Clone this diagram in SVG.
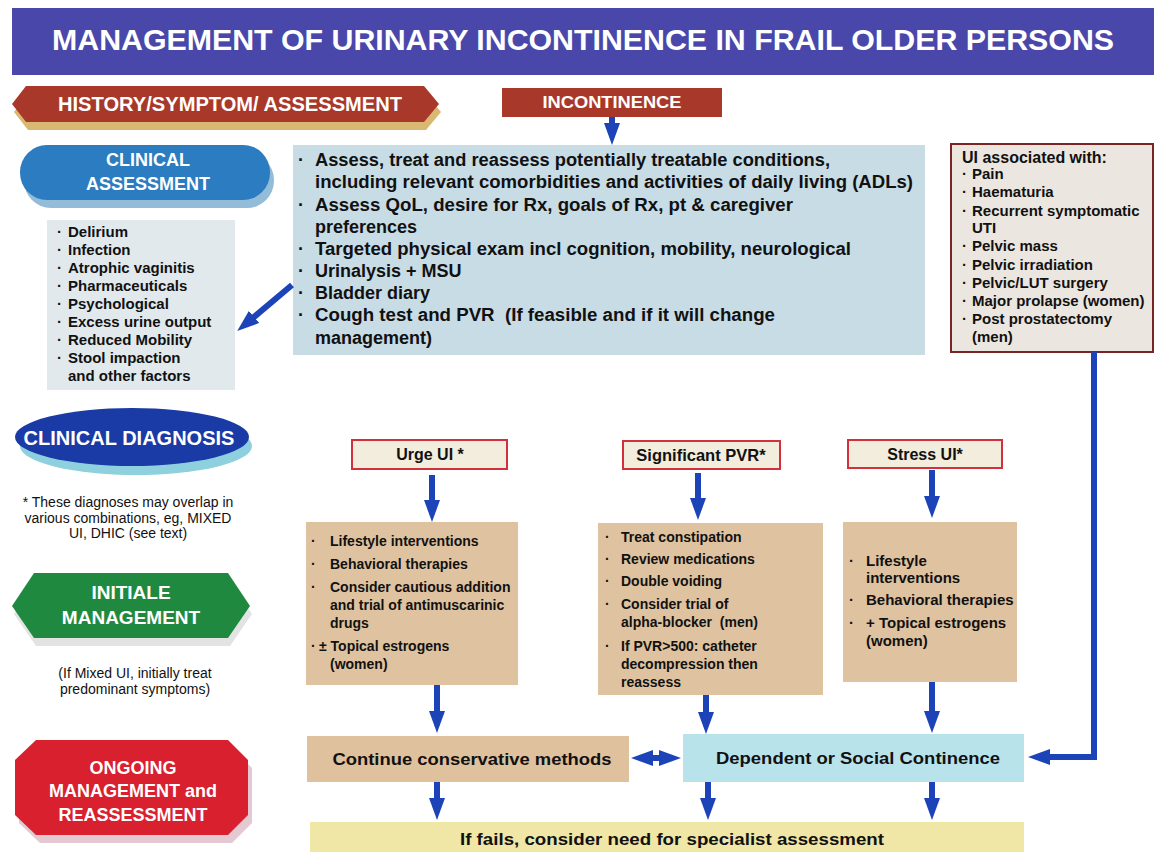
<svg xmlns="http://www.w3.org/2000/svg" width="1154" height="852" viewBox="0 0 1154 852">
<defs>
<style>
text{font-family:"Liberation Sans",Arial,Helvetica,sans-serif;}
.w{fill:#ffffff;font-weight:bold;}
.b{fill:#111111;font-weight:bold;}
.r{fill:#111111;font-size:14px;}
.m{font-size:18px;}
.l{font-size:15px;}
.t{font-size:14px;}
.c{text-anchor:middle;}
.arr{stroke:#1c44b8;stroke-width:6;fill:none;}
.hdr{fill:#f3eddd;stroke:#d2303c;stroke-width:2;}
.tan{fill:#dfc29f;}
</style>
<marker id="ah" viewBox="0 0 22 16" markerWidth="22" markerHeight="16" refX="4" refY="8" markerUnits="userSpaceOnUse" orient="auto-start-reverse">
<path d="M0,0 L22,8 L0,16 z" fill="#1c44b8"/>
</marker>
</defs>
<rect width="1154" height="852" fill="#ffffff"/>

<g id="title">
<rect x="12" y="8" width="1142" height="67" fill="#4a47ab"/>
<text class="w c" x="583" y="50" font-size="30" textLength="1062" lengthAdjust="spacingAndGlyphs">MANAGEMENT OF URINARY INCONTINENCE IN FRAIL OLDER PERSONS</text>
</g>

<g id="history">
<polygon points="14,112 28,94 426,94 441,112 426,130 28,130" fill="#d9b872"/>
<polygon points="12,104 26,86 424,86 439,104 424,122 26,122" fill="#a8392a"/>
<text class="w" x="58" y="111" font-size="20" textLength="344" lengthAdjust="spacingAndGlyphs">HISTORY/SYMPTOM/ ASSESSMENT</text>
</g>

<g id="incontinence">
<rect x="502" y="88" width="220" height="29" fill="#a8392a"/>
<text class="w c" x="612" y="108" font-size="17" textLength="139" lengthAdjust="spacingAndGlyphs">INCONTINENCE</text>
</g>

<g id="clinical-assessment">
<rect x="24" y="153" width="250" height="55" rx="27" fill="#93bcd8"/>
<rect x="20" y="145" width="250" height="55" rx="27" fill="#2b7cc0"/>
<text class="w c" x="148" y="166" font-size="18">CLINICAL</text>
<text class="w c" x="148" y="190" font-size="18">ASSESSMENT</text>
</g>

<g id="factors">
<rect x="47" y="220" width="188" height="170" fill="#e2e9ed"/>
<g class="b l">
<text x="57" y="237">·</text><text x="68" y="237">Delirium</text>
<text x="57" y="255">·</text><text x="68" y="255">Infection</text>
<text x="57" y="273">·</text><text x="68" y="273">Atrophic vaginitis</text>
<text x="57" y="291">·</text><text x="68" y="291">Pharmaceuticals</text>
<text x="57" y="309">·</text><text x="68" y="309">Psychological</text>
<text x="57" y="327">·</text><text x="68" y="327">Excess urine output</text>
<text x="57" y="345">·</text><text x="68" y="345">Reduced Mobility</text>
<text x="57" y="363">·</text><text x="68" y="363">Stool impaction</text>
<text x="68" y="381">and other factors</text>
</g>
</g>

<g id="assessment-box">
<rect x="293" y="145" width="632" height="210" fill="#c8dce6"/>
<g class="b m">
<text x="298" y="166">·</text><text x="315" y="166" textLength="515" lengthAdjust="spacingAndGlyphs">Assess, treat and reassess potentially treatable conditions,</text>
<text x="315" y="188" textLength="598" lengthAdjust="spacingAndGlyphs">including relevant comorbidities and activities of daily living (ADLs)</text>
<text x="298" y="211">·</text><text x="315" y="211" textLength="478" lengthAdjust="spacingAndGlyphs">Assess QoL, desire for Rx, goals of Rx, pt &amp; caregiver</text>
<text x="315" y="233">preferences</text>
<text x="298" y="255">·</text><text x="315" y="255" textLength="536" lengthAdjust="spacingAndGlyphs">Targeted physical exam incl cognition, mobility, neurological</text>
<text x="298" y="277">·</text><text x="315" y="277">Urinalysis + MSU</text>
<text x="298" y="299">·</text><text x="315" y="299">Bladder diary</text>
<text x="298" y="321">·</text><text x="315" y="321" textLength="460" lengthAdjust="spacingAndGlyphs">Cough test and PVR&#160; (If feasible and if it will change</text>
<text x="315" y="344">management)</text>
</g>
</g>

<g id="ui-associated">
<rect x="951" y="144" width="202" height="208" fill="#ebe6df" stroke="#7a2424" stroke-width="2"/>
<g class="b l">
<text x="962" y="163" font-size="16">UI associated with:</text>
<text x="962" y="179">·</text><text x="972" y="179">Pain</text>
<text x="962" y="197">·</text><text x="972" y="197">Haematuria</text>
<text x="962" y="216">·</text><text x="972" y="216">Recurrent symptomatic</text>
<text x="972" y="233">UTI</text>
<text x="962" y="251">·</text><text x="972" y="251">Pelvic mass</text>
<text x="962" y="270">·</text><text x="972" y="270">Pelvic irradiation</text>
<text x="962" y="288">·</text><text x="972" y="288">Pelvic/LUT surgery</text>
<text x="962" y="306">·</text><text x="972" y="306">Major prolapse (women)</text>
<text x="962" y="324">·</text><text x="972" y="324">Post prostatectomy</text>
<text x="972" y="342">(men)</text>
</g>
</g>

<g id="clinical-diagnosis">
<ellipse cx="136" cy="446" rx="116" ry="29" fill="#8fd0df"/>
<ellipse cx="132" cy="437" rx="117" ry="29" fill="#1a3aa6"/>
<text class="w c" x="129" y="445" font-size="20">CLINICAL DIAGNOSIS</text>
<text class="r c" x="128" y="507">* These diagnoses may overlap in</text>
<text class="r c" x="128" y="523">various combinations, eg, MIXED</text>
<text class="r c" x="128" y="538">UI, DHIC (see text)</text>
</g>

<g id="initiale">
<polygon points="14,614 36,581 230,581 252,614 230,646 36,646" fill="#e3e3e3"/>
<polygon points="12,606 34,573 228,573 250,606 228,638 34,638" fill="#1f8a3f"/>
<text class="w c" x="131" y="599" font-size="19">INITIALE</text>
<text class="w c" x="131" y="624" font-size="19">MANAGEMENT</text>
<text class="r c" x="135" y="678">(If Mixed UI, initially treat</text>
<text class="r c" x="135" y="694">predominant symptoms)</text>
</g>

<g id="ongoing">
<polygon points="40,748 232,748 252,768 252,823 232,843 40,843 19,823 19,768" fill="#e4c9d2"/>
<polygon points="36,740 228,740 248,760 248,815 228,835 36,835 15,815 15,760" fill="#d8202e"/>
<text class="w c" x="133" y="774" font-size="18">ONGOING</text>
<text class="w c" x="133" y="797" font-size="18">MANAGEMENT and</text>
<text class="w c" x="133" y="821" font-size="18">REASSESSMENT</text>
</g>

<g id="urge-ui">
<rect class="hdr" x="352" y="440" width="155" height="29"/>
<text class="b c" x="430" y="460" font-size="16">Urge UI *</text>
</g>
<g id="significant-pvr">
<rect class="hdr" x="623" y="441" width="157" height="28"/>
<text class="b c" x="701" y="461" font-size="16.5">Significant PVR*</text>
</g>
<g id="stress-ui">
<rect class="hdr" x="848" y="440" width="154" height="28"/>
<text class="b c" x="925" y="460" font-size="16">Stress UI*</text>
</g>

<g id="urge-treatment">
<rect class="tan" x="306" y="522" width="212" height="163"/>
<g class="b t">
<text x="311" y="546">·</text><text x="330" y="546">Lifestyle interventions</text>
<text x="311" y="569">·</text><text x="330" y="569">Behavioral therapies</text>
<text x="311" y="592">·</text><text x="330" y="592">Consider cautious addition</text>
<text x="330" y="610">and trial of antimuscarinic</text>
<text x="330" y="628">drugs</text>
<text x="311" y="651">·</text><text x="319" y="651">± Topical estrogens</text>
<text x="330" y="669">(women)</text>
</g>
</g>

<g id="pvr-treatment">
<rect class="tan" x="598" y="523" width="225" height="172"/>
<g class="b t">
<text x="605" y="542">·</text><text x="621" y="542">Treat constipation</text>
<text x="605" y="564">·</text><text x="621" y="564">Review medications</text>
<text x="605" y="586">·</text><text x="621" y="586">Double voiding</text>
<text x="605" y="609">·</text><text x="621" y="609">Consider trial of</text>
<text x="621" y="627">alpha-blocker&#160; (men)</text>
<text x="605" y="651">·</text><text x="621" y="651">If PVR&gt;500: catheter</text>
<text x="621" y="669">decompression then</text>
<text x="621" y="687">reassess</text>
</g>
</g>

<g id="stress-treatment">
<rect class="tan" x="843" y="522" width="174" height="160"/>
<g class="b l">
<text x="849" y="566">·</text><text x="866" y="566">Lifestyle</text>
<text x="866" y="583">interventions</text>
<text x="849" y="605">·</text><text x="866" y="605">Behavioral therapies</text>
<text x="849" y="628">·</text><text x="866" y="628">+ Topical estrogens</text>
<text x="866" y="646">(women)</text>
</g>
</g>

<g id="continue-conservative">
<rect x="307" y="736" width="322" height="46" fill="#dfc19e"/>
<text class="b c" x="472" y="765" font-size="17" textLength="279" lengthAdjust="spacingAndGlyphs">Continue conservative methods</text>
</g>

<g id="dependent-continence">
<rect x="683" y="734" width="341" height="48" fill="#b9e3eb"/>
<text class="b c" x="858" y="764" font-size="17" textLength="284" lengthAdjust="spacingAndGlyphs">Dependent or Social Continence</text>
</g>

<g id="specialist">
<rect x="310" y="822" width="714" height="30" fill="#f0e6a6"/>
<text class="b c" x="672" y="845" font-size="17" textLength="424" lengthAdjust="spacingAndGlyphs">If fails, consider need for specialist assessment</text>
</g>

<g id="connectors">
<line class="arr" x1="612" y1="117" x2="612" y2="127" marker-end="url(#ah)"/>
<line class="arr" x1="292" y1="285" x2="251" y2="319.5" marker-end="url(#ah)"/>
<path class="arr" d="M1094,352 V757 H1046" marker-end="url(#ah)"/>
<line class="arr" x1="432" y1="475" x2="432" y2="504" marker-end="url(#ah)"/>
<line class="arr" x1="698" y1="473" x2="698" y2="502" marker-end="url(#ah)"/>
<line class="arr" x1="932" y1="470" x2="932" y2="500" marker-end="url(#ah)"/>
<line class="arr" x1="437" y1="685" x2="437" y2="715" marker-end="url(#ah)"/>
<line class="arr" x1="706" y1="695" x2="706" y2="716" marker-end="url(#ah)"/>
<line class="arr" x1="932" y1="682" x2="932" y2="715" marker-end="url(#ah)"/>
<line class="arr" x1="649" y1="758" x2="663" y2="758" marker-start="url(#ah)" marker-end="url(#ah)"/>
<line class="arr" x1="437" y1="782" x2="437" y2="802" marker-end="url(#ah)"/>
<line class="arr" x1="708" y1="782" x2="708" y2="802" marker-end="url(#ah)"/>
<line class="arr" x1="932" y1="782" x2="932" y2="802" marker-end="url(#ah)"/>
</g>
</svg>
